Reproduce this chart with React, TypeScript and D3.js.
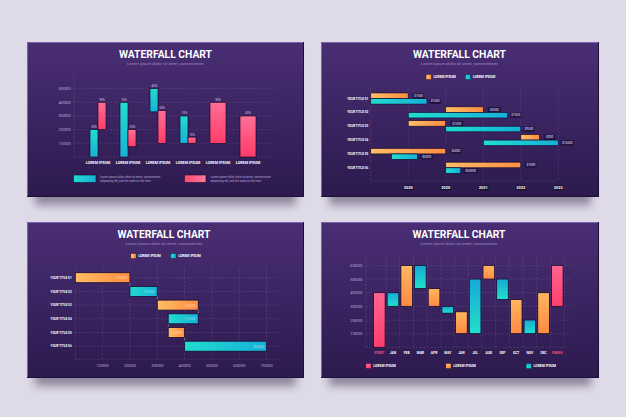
import React from "react";
import * as d3 from "d3";

const TITLE = "WATERFALL CHART";
const SUBTITLE = "Lorem ipsum dolor sit amet, consectetuer";

// ---------- Panel A (top-left): vertical paired bars ----------
const aGroups = ["LOREM IPSUM", "LOREM IPSUM", "LOREM IPSUM", "LOREM IPSUM", "LOREM IPSUM", "LOREM IPSUM"];
const aTicks = [10000, 20000, 30000, 40000, 50000];
const aCyanStart: (number | null)[] = [0, 0, 33000, 10000, null, null];
const aCyanEnd: (number | null)[] = [20000, 40000, 50000, 30000, null, null];
const aPinkStart = [20000, 7500, 10000, 10000, 10000, 0];
const aPinkEnd = [40000, 20000, 34000, 14500, 40000, 30000];
const aCyanLabels = ["35%", "76%", "-45%", "-15%", "", ""];
const aPinkLabels = ["95%", "-20%", "50%", "15%", "90%", "60%"];
const aLegendLines = ["Lorem ipsum dolor what sit amet, consectetuer", "adipiscing elit, sed the work on the time"];

// ---------- Panel B (top-right): horizontal paired bars ----------
const bCats = ["YOUR TITLE 01", "YOUR TITLE 02", "YOUR TITLE 03", "YOUR TITLE 04", "YOUR TITLE 05", "YOUR TITLE 06"];
const bTickVals = [1, 2, 3, 4, 5];
const bTickLabels = ["2020", "2020", "2021", "2022", "2023"];
const bOrangeStart = [0, 2, 1, 4, 0, 2];
const bOrangeEnd = [1, 3, 2, 4.5, 2, 4];
const bCyanStart = [0, 1, 2, 3, 0.55, 2];
const bCyanEnd = [1.5, 3.65, 4, 5, 1.25, 2.4];
const bOrangeLabels = ["$1500", "-$3500", "-$1500", "-$200", "$6000", "$7000"];
const bCyanLabels = ["$7500", "$7500", "$9500", "$16500", "-$5000", "-$50000"];
const bLegend = ["LOREM IPSUM", "LOREM IPSUM"];

// ---------- Panel C (bottom-left): horizontal waterfall ----------
const cCats = ["YOUR TITLE 01", "YOUR TITLE 02", "YOUR TITLE 03", "YOUR TITLE 04", "YOUR TITLE 05", "YOUR TITLE 06"];
const cTicks = [10000, 20000, 30000, 40000, 50000, 60000, 70000];
const cType = ["o", "c", "o", "c", "o", "c"];
const cStart = [0, 20000, 30000, 34000, 34000, 40000];
const cEnd = [20000, 30000, 45000, 45000, 40000, 70000];
const cLabels = ["20000", "10000", "15000", "11000", "6000", "30000"];
const cLegend = ["LOREM IPSUM", "LOREM IPSUM"];

// ---------- Panel D (bottom-right): monthly waterfall ----------
const dMonths = ["START", "JAN", "FEB", "MAR", "APR", "MAY", "JUN", "JUL", "AUG", "SEP", "OCT", "NOV", "DEC", "FINISH"];
const dTicks = [10000, 20000, 30000, 40000, 50000, 60000];
const dType = ["p", "c", "o", "c", "o", "c", "o", "c", "o", "c", "o", "c", "o", "p"];
const dStart = [0, 30000, 30000, 43000, 30000, 25000, 10000, 10000, 50000, 35000, 10000, 10000, 10000, 30000];
const dEnd = [40000, 40000, 60000, 60000, 43000, 30000, 26000, 50000, 60000, 50000, 35000, 20000, 40000, 60000];
const dLegend = ["LOREM IPSUM", "LOREM IPSUM", "LOREM IPSUM"];

const W = 626;
const H = 417;
const PANELS = [
  { x: 27, y: 42, w: 277, h: 155 },
  { x: 321, y: 42, w: 278, h: 155 },
  { x: 27, y: 222, w: 277, h: 156 },
  { x: 321, y: 222, w: 278, h: 156 },
];

const FONT = "Roboto, 'Open Sans', sans-serif";
const GRID = "rgba(190,170,230,0.28)";
const AXIS_TXT = "#b9a9d9";
const OUTLINE = "#170c30";

function Panel({ x, y, w, h }: { x: number; y: number; w: number; h: number }) {
  return (
    <g>
      <rect x={x + 8} y={y + 12} width={w - 16} height={h - 4} fill="#2b2145" opacity={0.45} filter="url(#shadow)" />
      <rect x={x} y={y} width={w} height={h} fill="url(#panelGrad)" />
      <path d={`M${x + 0.5},${y + h} V${y + 0.5} H${x + w}`} stroke="#7b62ad" strokeWidth={1} fill="none" />
      <path d={`M${x + w - 0.5},${y} V${y + h - 0.5} H${x}`} stroke="#1c1036" strokeWidth={1} fill="none" />
    </g>
  );
}

function Title({ cx, y }: { cx: number; y: number }) {
  return (
    <g fontFamily={FONT} textAnchor="middle">
      <text x={cx} y={y} fill="#ffffff" fontSize={11.5} fontWeight={700} textLength={93} lengthAdjust="spacingAndGlyphs">
        {TITLE}
      </text>
      <text x={cx} y={y + 6.5} fill="#9e8cc4" fontSize={3.9} textLength={77} lengthAdjust="spacingAndGlyphs">
        {SUBTITLE}
      </text>
    </g>
  );
}

function Tag({ x, y, text }: { x: number; y: number; text: string }) {
  const w = text.length * 1.75 + 2.5;
  return (
    <g>
      <rect x={x} y={y - 2.6} width={w} height={5.2} fill="#1e1238" opacity={0.85} rx={0.6} />
      <text x={x + 1.2} y={y + 1.1} fill="#d7cdee" fontSize={3.1} fontFamily={FONT} fontWeight={500}>
        {text}
      </text>
    </g>
  );
}

function PanelA() {
  const y = d3.scaleLinear().domain([0, 50000]).range([157, 88.6]);
  const x = d3.scaleBand<string>().domain(aGroups.map((_, i) => String(i))).range([83, 263]).padding(0);
  const half = 8;
  return (
    <g fontFamily={FONT}>
      <Title cx={165.5} y={58} />
      {aTicks.map((t) => (
        <line key={t} x1={74} x2={273} y1={y(t)} y2={y(t)} stroke={GRID} strokeWidth={0.6} strokeDasharray="2,1.6" />
      ))}
      <line x1={74} x2={273} y1={y(0)} y2={y(0)} stroke={GRID} strokeWidth={0.6} strokeDasharray="2,1.6" />
      <line x1={74} x2={74} y1={75} y2={y(0)} stroke={GRID} strokeWidth={0.6} strokeDasharray="2,1.6" />
      {aTicks.map((t) => (
        <text key={t} x={70.8} y={y(t) + 1.5} fill={AXIS_TXT} fontSize={4.4} textAnchor="end">
          {t}
        </text>
      ))}
      {aGroups.map((g, i) => {
        const cx = (x(String(i)) as number) + x.bandwidth() / 2;
        const cs = aCyanStart[i];
        const ce = aCyanEnd[i];
        const hasCyan = cs !== null && ce !== null;
        const px0 = hasCyan ? cx : cx - half;
        const px1 = cx + half;
        return (
          <g key={i}>
            {hasCyan && (
              <g>
                <rect x={cx - half} y={y(ce as number)} width={half} height={y(cs as number) - y(ce as number)} fill="url(#cyanV)" stroke={OUTLINE} strokeWidth={0.7} />
                <text x={cx - half / 2} y={y(ce as number) - 1.6} fill="#cfc3ea" fontSize={3.1} textAnchor="middle">
                  {aCyanLabels[i]}
                </text>
              </g>
            )}
            <rect x={px0} y={y(aPinkEnd[i])} width={px1 - px0} height={y(aPinkStart[i]) - y(aPinkEnd[i])} fill="url(#pinkA)" stroke={OUTLINE} strokeWidth={0.7} />
            <text x={(px0 + px1) / 2} y={y(aPinkEnd[i]) - 1.6} fill="#cfc3ea" fontSize={3.1} textAnchor="middle">
              {aPinkLabels[i]}
            </text>
            <text x={cx} y={164.3} fill="#ffffff" fontSize={3.7} fontWeight={700} textAnchor="middle">
              {g}
            </text>
          </g>
        );
      })}
      <rect x={73.5} y={175} width={22.5} height={7.5} fill="url(#cyanH)" stroke={OUTLINE} strokeWidth={0.6} />
      <rect x={184.3} y={175} width={21.7} height={7.5} fill="url(#pinkH)" stroke={OUTLINE} strokeWidth={0.6} />
      {aLegendLines.map((l, i) => (
        <g key={i}>
          <text x={100} y={178.2 + i * 4} fill="#b8a9d8" fontSize={2.9}>
            {l}
          </text>
          <text x={210.5} y={178.2 + i * 4} fill="#b8a9d8" fontSize={2.9}>
            {l}
          </text>
        </g>
      ))}
    </g>
  );
}

function PanelB() {
  const x = d3.scaleLinear().domain([0, 5]).range([370.7, 558.3]);
  const y = d3.scaleBand<string>().domain(bCats).range([91.6, 174.7]).padding(0);
  const bh = 5.6;
  return (
    <g fontFamily={FONT}>
      <Title cx={459.5} y={58} />
      <rect x={426} y={74.3} width={5.4} height={5.4} fill="url(#orangeH)" stroke={OUTLINE} strokeWidth={0.5} />
      <text x={433.4} y={78.4} fill="#ffffff" fontSize={3.4} fontWeight={700}>{bLegend[0]}</text>
      <rect x={465.3} y={74.3} width={5.4} height={5.4} fill="url(#cyanH)" stroke={OUTLINE} strokeWidth={0.5} />
      <text x={472.7} y={78.4} fill="#ffffff" fontSize={3.4} fontWeight={700}>{bLegend[1]}</text>
      <line x1={x(0)} x2={x(0)} y1={88} y2={181} stroke={GRID} strokeWidth={0.6} strokeDasharray="2,1.6" />
      {bTickVals.map((t) => (
        <line key={t} x1={x(t)} x2={x(t)} y1={88} y2={181} stroke={GRID} strokeWidth={0.6} strokeDasharray="2,1.6" />
      ))}
      <line x1={x(0)} x2={x(5)} y1={181} y2={181} stroke={GRID} strokeWidth={0.6} strokeDasharray="2,1.6" />
      {bTickVals.map((t, i) => (
        <g key={t}>
          <rect x={x(t) - 5.2} y={184.9} width={10.4} height={5.4} fill="#1b1033" rx={0.6} />
          <text x={x(t)} y={189.1} fill="#ffffff" fontSize={3.9} fontWeight={700} textAnchor="middle">
            {bTickLabels[i]}
          </text>
        </g>
      ))}
      {bCats.map((c, i) => {
        const cy = (y(c) as number) + y.bandwidth() / 2;
        return (
          <g key={c}>
            <text x={368.3} y={cy + 1.1} fill="#ffffff" fontSize={3.1} fontWeight={700} textAnchor="end">
              {c}
            </text>
            <rect x={x(bOrangeStart[i])} y={cy - bh} width={x(bOrangeEnd[i]) - x(bOrangeStart[i])} height={bh} fill="url(#orangeH)" stroke={OUTLINE} strokeWidth={0.7} />
            <rect x={x(bCyanStart[i])} y={cy} width={x(bCyanEnd[i]) - x(bCyanStart[i])} height={bh} fill="url(#cyanH)" stroke={OUTLINE} strokeWidth={0.7} />
            <Tag x={x(bOrangeEnd[i]) + 4.5} y={cy - bh / 2} text={bOrangeLabels[i]} />
            <Tag x={x(bCyanEnd[i]) + 2.5} y={cy + bh / 2} text={bCyanLabels[i]} />
          </g>
        );
      })}
    </g>
  );
}

function PanelC() {
  const x = d3.scaleLinear().domain([0, 70000]).range([75.3, 266.6]);
  const y = d3.scaleBand<string>().domain(cCats).range([270.85, 353.05]).padding(0);
  const bh = 10;
  return (
    <g fontFamily={FONT}>
      <Title cx={164} y={238} />
      <rect x={130.7} y={253.3} width={5.4} height={5.4} fill="url(#orangeH)" stroke={OUTLINE} strokeWidth={0.5} />
      <text x={138.2} y={257.4} fill="#ffffff" fontSize={3.4} fontWeight={700}>{cLegend[0]}</text>
      <rect x={170.7} y={253.3} width={5.4} height={5.4} fill="url(#cyanH)" stroke={OUTLINE} strokeWidth={0.5} />
      <text x={178.2} y={257.4} fill="#ffffff" fontSize={3.4} fontWeight={700}>{cLegend[1]}</text>
      {[0, ...cTicks].map((t) => (
        <line key={t} x1={x(t)} x2={x(t)} y1={266.7} y2={359.3} stroke={GRID} strokeWidth={0.6} strokeDasharray="2,1.6" />
      ))}
      {cCats.map((c) => {
        const cy = (y(c) as number) + y.bandwidth() / 2;
        return <line key={c} x1={75} x2={280} y1={cy} y2={cy} stroke={GRID} strokeWidth={0.6} strokeDasharray="2,1.6" />;
      })}
      <line x1={75} x2={280} y1={359.3} y2={359.3} stroke={GRID} strokeWidth={0.6} strokeDasharray="2,1.6" />
      {cTicks.map((t) => (
        <text key={t} x={x(t)} y={367.2} fill={AXIS_TXT} fontSize={4.3} textAnchor="middle">
          {t}
        </text>
      ))}
      {cCats.map((c, i) => {
        const cy = (y(c) as number) + y.bandwidth() / 2;
        const x0 = x(cStart[i]);
        const x1 = x(cEnd[i]);
        const hasNext = i < cCats.length - 1;
        const next = hasNext ? (y(cCats[i + 1]) as number) + y.bandwidth() / 2 : 0;
        const shared = hasNext
          ? cEnd[i] === cStart[i + 1] || cEnd[i] === cEnd[i + 1]
            ? cEnd[i]
            : cStart[i]
          : 0;
        return (
          <g key={c}>
            <text x={71.7} y={cy + 1.1} fill="#ffffff" fontSize={3.1} fontWeight={700} textAnchor="end">
              {c}
            </text>
            <rect x={x0} y={cy - bh / 2} width={x1 - x0} height={bh} fill={cType[i] === "o" ? "url(#orangeH)" : "url(#cyanH)"} stroke={OUTLINE} strokeWidth={0.8} />
            <text x={x1 - 2.5} y={cy + 1.4} fill="rgba(255,255,255,0.55)" fontSize={3.9} textAnchor="end">
              {cLabels[i]}
            </text>
            {hasNext && (
              <line x1={x(shared)} x2={x(shared)} y1={cy + bh / 2} y2={next - bh / 2} stroke="#d8ccf0" strokeWidth={0.6} strokeDasharray="1,0.8" />
            )}
          </g>
        );
      })}
    </g>
  );
}

function PanelD() {
  const x = d3.scaleBand<string>().domain(dMonths).range([372.45, 564.1]).paddingInner(0.15).paddingOuter(0.075);
  const y = d3.scaleLinear().domain([0, 60000]).range([347.3, 265.4]);
  const fills: Record<string, string> = { p: "url(#pinkD)", c: "url(#cyanD)", o: "url(#orangeV)" };
  const gap = (x.step() - x.bandwidth()) / 2;
  return (
    <g fontFamily={FONT}>
      <Title cx={459} y={238} />
      <line x1={365.7} x2={365.7} y1={255} y2={y(0)} stroke={GRID} strokeWidth={0.6} strokeDasharray="2,1.6" />
      {dMonths.map((m) => {
        const gx = (x(m) as number) + x.bandwidth() + gap;
        return <line key={m} x1={gx} x2={gx} y1={255} y2={y(0)} stroke={GRID} strokeWidth={0.6} strokeDasharray="2,1.6" />;
      })}
      {dTicks.map((t) => (
        <line key={t} x1={365.7} x2={571.7} y1={y(t)} y2={y(t)} stroke={GRID} strokeWidth={0.6} strokeDasharray="2,1.6" />
      ))}
      <line x1={365.7} x2={571.7} y1={y(0)} y2={y(0)} stroke={GRID} strokeWidth={0.6} strokeDasharray="2,1.6" />
      {dTicks.map((t) => (
        <text key={t} x={362.3} y={y(t) + 1.5} fill={AXIS_TXT} fontSize={4.3} textAnchor="end">
          {t}
        </text>
      ))}
      {dMonths.map((m, i) => {
        const bx = x(m) as number;
        const cx = bx + x.bandwidth() / 2;
        return (
          <g key={m}>
            <rect x={bx} y={y(dEnd[i])} width={x.bandwidth()} height={y(dStart[i]) - y(dEnd[i])} fill={fills[dType[i]]} stroke={OUTLINE} strokeWidth={0.8} />
            <text x={cx} y={354} fill={dType[i] === "p" ? "#ff4d78" : "#ffffff"} fontSize={3.3} fontWeight={700} textAnchor="middle">
              {m}
            </text>
          </g>
        );
      })}
      {[
        { x: 365.7, f: "url(#pinkD)" },
        { x: 445.7, f: "url(#orangeV)" },
        { x: 526, f: "url(#cyanD)" },
      ].map((l, i) => (
        <g key={i}>
          <rect x={l.x} y={363.3} width={5.4} height={5.4} fill={l.f} stroke={OUTLINE} strokeWidth={0.5} />
          <text x={l.x + 7.6} y={367.4} fill="#ffffff" fontSize={3.4} fontWeight={700}>
            {dLegend[i]}
          </text>
        </g>
      ))}
    </g>
  );
}

export default function App() {
  return (
    <svg width={W} height={H} viewBox={`0 0 ${W} ${H}`} style={{ position: "absolute", left: 0, top: 0, display: "block" }}>
      <defs>
        <filter id="shadow" x="-20%" y="-30%" width="140%" height="160%">
          <feGaussianBlur stdDeviation="4.5" />
        </filter>
        <linearGradient id="panelGrad" x1="0" y1="0" x2="0" y2="1">
          <stop offset="0" stopColor="#4a2e74" />
          <stop offset="1" stopColor="#2c1a4e" />
        </linearGradient>
        <linearGradient id="cyanV" x1="0" y1="0" x2="0" y2="1">
          <stop offset="0" stopColor="#22dccd" />
          <stop offset="1" stopColor="#17b2d6" />
        </linearGradient>
        <linearGradient id="pinkA" x1="0" y1="0" x2="0" y2="1">
          <stop offset="0" stopColor="#ff6f96" />
          <stop offset="1" stopColor="#ff3c68" />
        </linearGradient>
        <linearGradient id="cyanH" x1="0" y1="0" x2="1" y2="0">
          <stop offset="0" stopColor="#21dccd" />
          <stop offset="1" stopColor="#16b0d8" />
        </linearGradient>
        <linearGradient id="pinkH" x1="0" y1="0" x2="1" y2="0">
          <stop offset="0" stopColor="#ff4a72" />
          <stop offset="1" stopColor="#ff7a9e" />
        </linearGradient>
        <linearGradient id="orangeH" x1="0" y1="0" x2="1" y2="0">
          <stop offset="0" stopColor="#ffbe66" />
          <stop offset="1" stopColor="#ff8d43" />
        </linearGradient>
        <linearGradient id="orangeV" x1="0" y1="0" x2="0" y2="1">
          <stop offset="0" stopColor="#ffb660" />
          <stop offset="1" stopColor="#ff8a41" />
        </linearGradient>
        <linearGradient id="cyanD" x1="0" y1="0" x2="0" y2="1">
          <stop offset="0" stopColor="#17a8d8" />
          <stop offset="1" stopColor="#22e0c9" />
        </linearGradient>
        <linearGradient id="pinkD" x1="0" y1="0" x2="0" y2="1">
          <stop offset="0" stopColor="#ff6491" />
          <stop offset="1" stopColor="#ff3f6c" />
        </linearGradient>
      </defs>
      <rect x={0} y={0} width={W} height={H} fill="#dedae7" />
      {PANELS.map((p, i) => (
        <Panel key={i} {...p} />
      ))}
      <PanelA />
      <PanelB />
      <PanelC />
      <PanelD />
    </svg>
  );
}
